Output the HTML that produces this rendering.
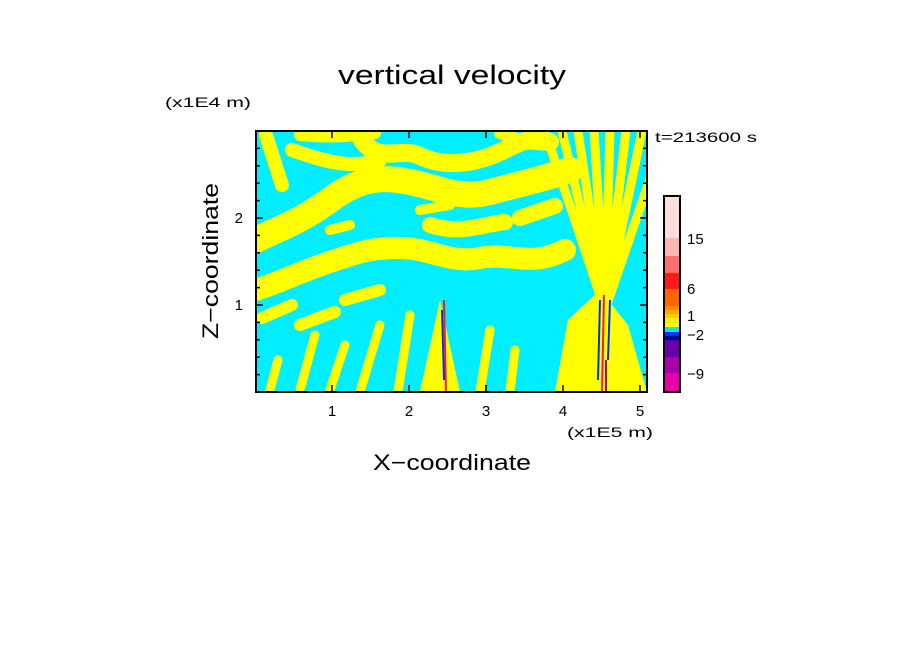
<!DOCTYPE html>
<html><head><meta charset="utf-8"><style>
html,body{margin:0;padding:0;background:#fff;}
svg{display:block;font-family:"Liberation Sans",sans-serif;}
</style></head><body>
<svg id="chart" width="904" height="654" viewBox="0 0 904 654">
<text x="452" y="84" font-size="27" text-anchor="middle" textLength="228" lengthAdjust="spacingAndGlyphs">vertical velocity</text>
<text x="165" y="107" font-size="14" textLength="86" lengthAdjust="spacingAndGlyphs">(x1E4 m)</text>
<text x="655" y="142" font-size="14" textLength="102" lengthAdjust="spacingAndGlyphs">t=213600 s</text>
<text x="567" y="437" font-size="14" textLength="86" lengthAdjust="spacingAndGlyphs">(x1E5 m)</text>
<text x="452" y="470" font-size="22" text-anchor="middle" textLength="158" lengthAdjust="spacingAndGlyphs">X−coordinate</text>
<text transform="translate(218,261) rotate(-90)" font-size="22" text-anchor="middle" textLength="156" lengthAdjust="spacingAndGlyphs">Z−coordinate</text>
<defs><clipPath id="pc"><rect x="256" y="131" width="391" height="261"/></clipPath></defs>
<g clip-path="url(#pc)">
<rect x="256" y="131" width="391" height="261" fill="#00eeff"/>
<g fill="none" stroke="#ffff00" stroke-linecap="round" stroke-linejoin="round">
<path stroke-width="26" d="M256,240 C280,228 300,222 330,200 S380,176 410,182 S460,200 490,192 S540,180 570,170"/>
<path stroke-width="14" d="M266,135 L282,185"/>
<path stroke-width="14" d="M292,150 C320,160 350,170 380,160"/>
<path stroke-width="18" d="M362,140 C380,165 400,146 420,156 S470,166 500,152 S520,140 550,142"/>
<path stroke-width="12" d="M300,135 C330,138 350,136 375,133 M500,133 L520,140"/>
<path stroke-width="22" d="M256,290 C280,282 300,272 330,262 S370,248 400,248 S450,264 480,258 S530,268 565,250"/>
<path stroke-width="12" d="M262,318 L292,305 M300,325 L335,312 M345,300 L380,290"/>
<path stroke-width="16" d="M430,225 C460,235 480,225 505,222 M520,218 L555,206"/>
<path stroke-width="10" d="M420,210 L450,205 M330,230 L350,225"/>
<path stroke-width="9" d="M300,390 L315,335 M330,390 L345,345 M360,392 L380,325 M398,392 L410,315 M270,390 L278,360 M480,392 L490,330 M510,392 L515,350"/>
<path stroke-width="9" d="M605,310 L545,131 M605,310 L562,131 M605,310 L578,131 M605,310 L594,131 M605,310 L610,131 M605,310 L626,131 M605,310 L642,131 M605,310 L660,150"/>
</g>
<polygon fill="#ffff00" points="420,392 440,300 460,392"/>
<polygon fill="#ffff00" points="555,392 568,320 600,290 628,325 647,392"/>
<g stroke-width="2" fill="none">
<path stroke="#ff1a1a" d="M444,300 L446,392"/>
<path stroke="#0033ff" d="M442,310 L444,380"/>
<path stroke="#ff1a1a" d="M604,295 L602,392"/>
<path stroke="#0033ff" d="M600,300 L598,380 M610,300 L608,360"/>
<path stroke="#aa00aa" d="M606,360 L606,392"/>
</g>
</g>
<rect x="256" y="131" width="391" height="261" fill="none" stroke="#000" stroke-width="2"/>
<g id="ticks" stroke="#000" stroke-width="1.5"></g>
<g id="tlabels" font-size="15"></g>
<g id="cbar"></g>
<script>
const xTicks=[1,2,3,4,5];
const yTicks=[1,2];
const cbarColors=["#e600aa","#aa00aa","#6600aa","#000099","#0033ff","#00e5ff","#ffff00","#ffee00","#ffcc00","#ffaa00","#ff8800","#ff6600","#ff1a1a","#ff6e6e","#ffb4b4","#ffdcdc"];
const cbarEdges=[392,373,357,340,336,332,327,323,318,314,310,306,289,273,256,238,196];
const cbarLabels=["−9","−2","1","6","15"];
const cbarLabelPos=[373,334,315,288,238];
const NS="http://www.w3.org/2000/svg";
const sx=v=>255+v*77, sy=v=>392-v*87;
function mk(tag,attrs,parent,text){const e=document.createElementNS(NS,tag);for(const k in attrs)e.setAttribute(k,attrs[k]);if(text!==undefined)e.textContent=text;parent.appendChild(e);return e;}
const tg=document.getElementById('ticks'), lg=document.getElementById('tlabels');
xTicks.forEach(v=>{const x=sx(v);
 const t=mk('path',{d:`M${x},392 v-7 M${x},131 v7`},tg);
 
 
 const l=mk('text',{x:x,y:416,'text-anchor':'middle'},lg,String(v));
 
 });
for(let i=1;i<15;i++){const y=sy(i*0.2);const len=(i%5===0)?7:4;
 const t=mk('path',{d:`M256,${y} h${len} M647,${y} h-${len}`},tg);
 
 }
yTicks.forEach(v=>{const l=mk('text',{x:243,y:sy(v)+5,'text-anchor':'end'},lg,String(v));
 
 });
const cb=document.getElementById('cbar');
cbarColors.forEach((c,i)=>{const y1=cbarEdges[i+1],y0=cbarEdges[i];
 const r=mk('rect',{x:664,y:y1,width:16,height:y0-y1,fill:c},cb);
 
 });
mk('rect',{x:664,y:196,width:16,height:196,fill:'none',stroke:'#000','stroke-width':2},cb);
cbarLabels.forEach((s,i)=>{const l=mk('text',{x:687,y:cbarLabelPos[i]+6,'font-size':15},cb,s);
 
 });
</script>
</svg>
</body></html>
